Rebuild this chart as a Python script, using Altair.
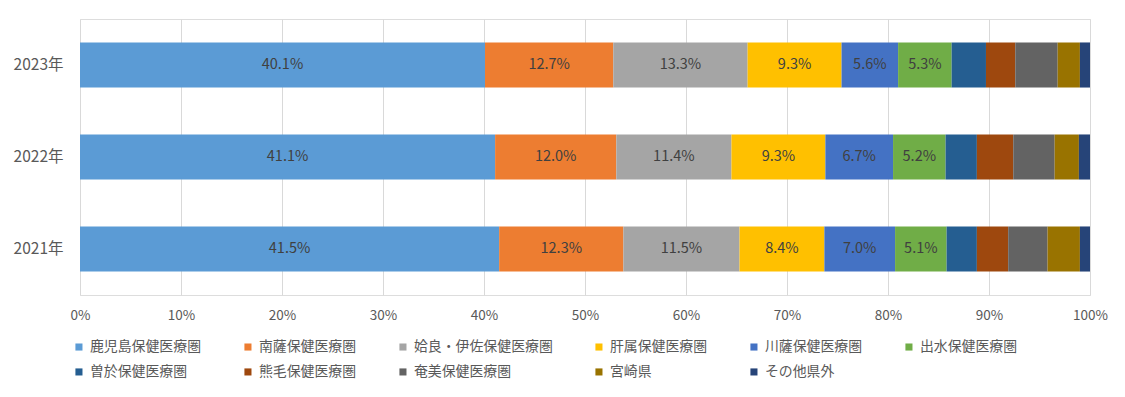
import altair as alt
import pandas as pd

years = ["2023年", "2022年", "2021年"]
regions = ["鹿児島保健医療圏", "南薩保健医療圏", "姶良・伊佐保健医療圏", "肝属保健医療圏",
           "川薩保健医療圏", "出水保健医療圏", "曽於保健医療圏", "熊毛保健医療圏",
           "奄美保健医療圏", "宮崎県", "その他県外"]
colors = ["#5B9BD5", "#ED7D31", "#A5A5A5", "#FFC000", "#4472C4", "#70AD47",
          "#255E91", "#9E480E", "#636363", "#997300", "#264478"]
v2023 = [40.1, 12.7, 13.3, 9.3, 5.6, 5.3, 3.4, 2.9, 4.2, 2.2, 1.0]
v2022 = [41.1, 12.0, 11.4, 9.3, 6.7, 5.2, 3.1, 3.6, 4.1, 2.4, 1.1]
v2021 = [41.5, 12.3, 11.5, 8.4, 7.0, 5.1, 3.0, 3.1, 3.9, 3.2, 1.0]
labeled_count = 6

rows = []
for y, vals in zip(years, [v2023, v2022, v2021]):
    for i, (r, v) in enumerate(zip(regions, vals)):
        rows.append({"year": y, "region": r, "idx": i, "value": v})
df = pd.DataFrame(rows)

FONT = "Noto Sans CJK JP"

y_enc = alt.Y("year:N", sort=years, title=None,
              scale=alt.Scale(paddingInner=0.51, paddingOuter=0.255),
              axis=alt.Axis(ticks=False, domain=False, labelFontSize=15.5, labelColor="#595959",
                            labelPadding=17, labelFont=FONT))

bars = alt.Chart(df).mark_bar().encode(
    x=alt.X("value:Q", stack="zero", title=None,
            scale=alt.Scale(domain=[0, 100], nice=False),
            axis=alt.Axis(values=list(range(0, 101, 10)), labelExpr="datum.value + '%'",
                          grid=True, gridColor="#D9D9D9", gridWidth=1, ticks=False, domain=False,
                          labelFlush=False, labelOverlap=False,
                          labelFontSize=13.5, labelColor="#595959", labelPadding=13, labelFont=FONT)),
    y=y_enc,
    color=alt.Color("region:N", sort=regions,
                    scale=alt.Scale(domain=regions, range=colors),
                    legend=alt.Legend(title=None, orient="none", columns=6, direction="horizontal",
                                      legendX=-8, legendY=321, symbolType="square", symbolSize=50,
                                      symbolStrokeWidth=0, labelFontSize=13.9, labelColor="#595959",
                                      labelFont=FONT, columnPadding=39, rowPadding=10, padding=0,
                                      labelOffset=4, labelLimit=300)),
    order=alt.Order("idx:Q", sort="ascending"),
)

labels = alt.Chart(df).transform_window(
    cum="sum(value)", groupby=["year"], sort=[alt.SortField("idx", order="ascending")],
    frame=[None, 0]
).transform_calculate(
    mid="datum.cum - datum.value / 2",
    label="format(datum.value, '.1f') + '%'"
).transform_filter(
    f"datum.idx < {labeled_count}"
).mark_text(fontSize=14.5, color="#404040", font=FONT).encode(
    x=alt.X("mid:Q"),
    y=alt.Y("year:N", sort=years),
    text="label:N",
)

chart = alt.layer(bars, labels).properties(
    width=1010, height=276,
    autosize=alt.AutoSizeParams(type="none"),
    padding={"left": 72, "top": 11, "right": 20, "bottom": 85},
).configure_view(stroke=None).configure(background="white")

chart.save("out.html", embed_options={"renderer": "svg", "actions": False})
